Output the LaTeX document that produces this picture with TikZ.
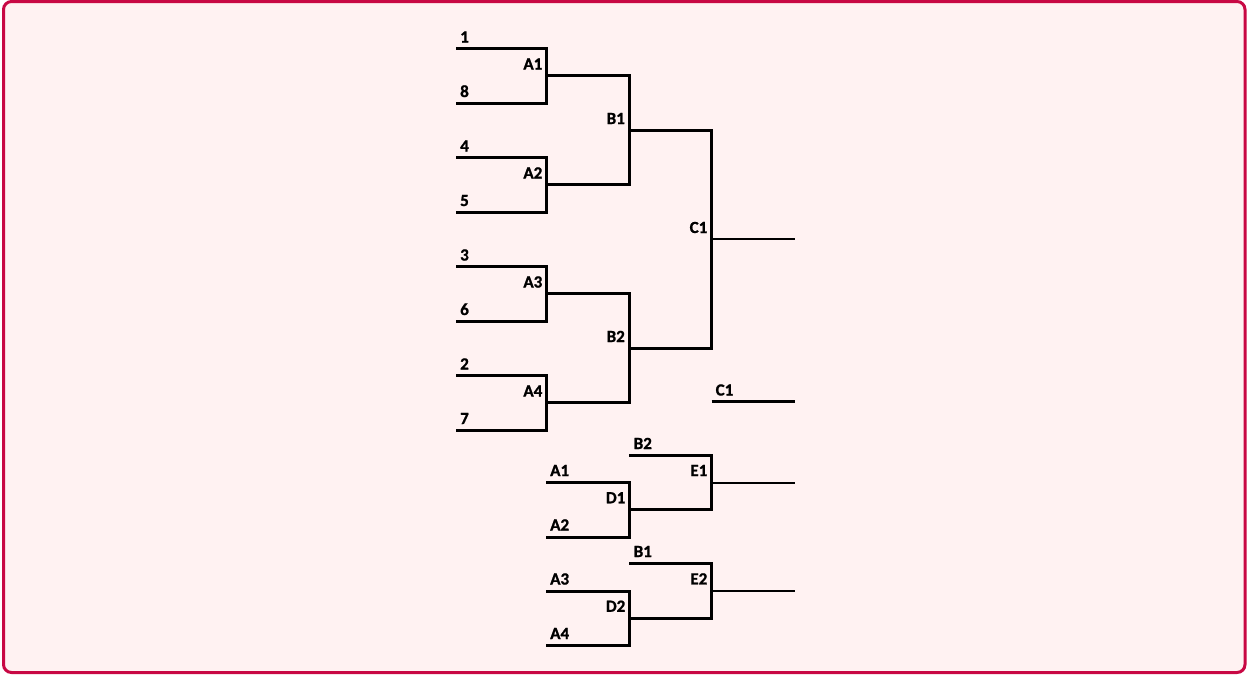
\documentclass[tikz,border=0pt]{standalone}
\usepackage{fontspec}
\setmainfont{Carlito}
\newfontfamily\labfont{Carlito}[UprightFont=*-Bold, FakeBold=1.2]
\definecolor{bgpink}{RGB}{255,242,242}
\definecolor{crim}{RGB}{200,8,68}
\tikzset{
  br/.style={line width=3pt, line join=miter},
  outl/.style={line width=2.2pt},
  lab/.style={font=\labfont\fontsize{17}{17}\selectfont, inner sep=0pt},
  lw/.style={lab, anchor=base west},
  le/.style={lab, anchor=base east},
}
\begin{document}
\begin{tikzpicture}[x=1pt,y=-1pt]
\useasboundingbox (0,0) rectangle (1248,675);
\fill[white] (0,0) rectangle (1248,675);
\draw[crim, line width=3pt, fill=bgpink, rounded corners=8pt] (3.5,1.5) rectangle (1245,672.5);
% round A coordinates
\foreach \n/\y in {s1/48.5, s8/103, s4/157.5, s5/212, s3/266.5, s6/321, s2/375.5, s7/430}{
  \coordinate (\n) at (456,\y);
  \coordinate (\n c) at (546.5,\y);
}
\coordinate (a1m) at (546.5,75.75);
\coordinate (a2m) at (546.5,184.75);
\coordinate (a3m) at (546.5,293.75);
\coordinate (a4m) at (546.5,402.75);
\coordinate (b1t) at (629,75.75);
\coordinate (b1b) at (629,184.75);
\coordinate (b2t) at (629,293.75);
\coordinate (b2b) at (629,402.75);
\coordinate (b1m) at (629,130.25);
\coordinate (b2m) at (629,348.25);
\coordinate (c1t) at (711.5,130.25);
\coordinate (c1b) at (711.5,348.25);
\coordinate (c1m) at (711.5,239.25);
\coordinate (c1o) at (794.5,239.25);
% brackets A
\draw[br] (s1) -- (s1c) -- (s8c) -- (s8);
\draw[br] (s4) -- (s4c) -- (s5c) -- (s5);
\draw[br] (s3) -- (s3c) -- (s6c) -- (s6);
\draw[br] (s2) -- (s2c) -- (s7c) -- (s7);
% brackets B
\draw[br] (a1m) -- (b1t) -- (b1b) -- (a2m);
\draw[br] (a3m) -- (b2t) -- (b2b) -- (a4m);
% bracket C
\draw[br] (b1m) -- (c1t) -- (c1b) -- (b2m);
\draw[outl] (c1m) -- (c1o);
% labels upper
\node[lw] (l1) at (460,42.5) {1};
\node[lw] (l8) at (460,97) {8};
\node[lw] (l4) at (460,151.5) {4};
\node[lw] (l5) at (460,206) {5};
\node[lw] (l3) at (460,260.5) {3};
\node[lw] (l6) at (460,315) {6};
\node[lw] (l2) at (460,369.5) {2};
\node[lw] (l7) at (460,424) {7};
\node[le] (lA1) at (542.5,69.5) {A1};
\node[le] (lA2) at (542.5,178.5) {A2};
\node[le] (lA3) at (542.5,287.5) {A3};
\node[le] (lA4) at (542.5,396.5) {A4};
\node[le] (lB1) at (625,124) {B1};
\node[le] (lB2) at (625,342) {B2};
\node[le] (lC1) at (707.5,233) {C1};
% lower part
\coordinate (c1l) at (711.5,401.5);
\coordinate (c1lo) at (794.5,401.5);
\draw[outl] (c1l) -- (c1lo);
\node[lw] (lC1b) at (715.5,395.5) {C1};
% D1/E1
\coordinate (d1t) at (546,482.5);
\coordinate (d1tc) at (629,482.5);
\coordinate (d1b) at (546,537);
\coordinate (d1bc) at (629,537);
\coordinate (d1m) at (629,509.75);
\coordinate (e1t) at (629,455.5);
\coordinate (e1tc) at (711.5,455.5);
\coordinate (e1bc) at (711.5,509.75);
\coordinate (e1m) at (711.5,482.6);
\coordinate (e1o) at (794.5,482.6);
\draw[br] (d1t) -- (d1tc) -- (d1bc) -- (d1b);
\draw[br] (e1t) -- (e1tc) -- (e1bc) -- (d1m);
\draw[outl] (e1m) -- (e1o);
\node[lw] (lB2b) at (633.5,449) {B2};
\node[lw] (lA1b) at (550,476) {A1};
\node[lw] (lA2b) at (550,530.5) {A2};
\node[le] (lD1) at (625.5,503.25) {D1};
\node[le] (lE1) at (707.5,476) {E1};
% D2/E2
\coordinate (d2t) at (546,591);
\coordinate (d2tc) at (629,591);
\coordinate (d2b) at (546,645.5);
\coordinate (d2bc) at (629,645.5);
\coordinate (d2m) at (629,618.25);
\coordinate (e2t) at (629,563.5);
\coordinate (e2tc) at (711.5,563.5);
\coordinate (e2bc) at (711.5,618.25);
\coordinate (e2m) at (711.5,590.9);
\coordinate (e2o) at (794.5,590.9);
\draw[br] (d2t) -- (d2tc) -- (d2bc) -- (d2b);
\draw[br] (e2t) -- (e2tc) -- (e2bc) -- (d2m);
\draw[outl] (e2m) -- (e2o);
\node[lw] (lB1b) at (633.5,557) {B1};
\node[lw] (lA3b) at (550,584.5) {A3};
\node[lw] (lA4b) at (550,639) {A4};
\node[le] (lD2) at (625.5,611.75) {D2};
\node[le] (lE2) at (707.5,584.4) {E2};
\end{tikzpicture}
\end{document}
